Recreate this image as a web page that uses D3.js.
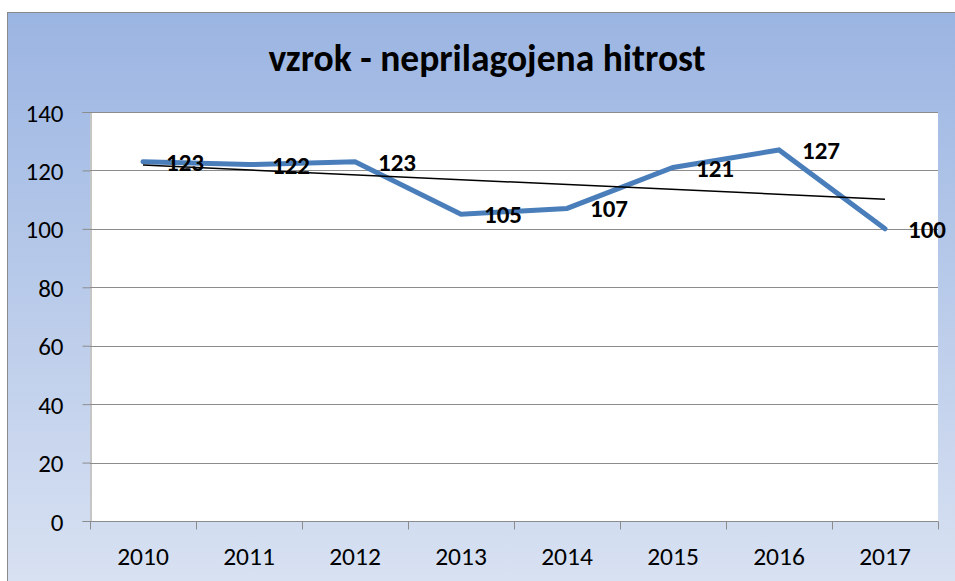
<!DOCTYPE html>
<html>
<head>
<meta charset="utf-8">
<script src="https://cdn.jsdelivr.net/npm/d3@7"></script>
<style>
  html, body { margin: 0; padding: 0; background: #ffffff; }
  svg { display: block; }
  text { font-family: Carlito, Lato, "Liberation Sans", sans-serif; }
</style>
</head>
<body>
<svg id="chart" width="955" height="581"></svg>
<script>
// Traffic accidents caused by inappropriate speed, by year
const years = ["2010", "2011", "2012", "2013", "2014", "2015", "2016", "2017"];
const accidents = [123, 122, 123, 105, 107, 121, 127, 100];
const yTicks = [0, 20, 40, 60, 80, 100, 120, 140];
const chartTitle = "vzrok - neprilagojena hitrost";

const svg = d3.select("#chart");
const W = 955, H = 581;
const plot = { left: 90, right: 938, top: 112, bottom: 521 };

// Background panel with a vertical blue gradient
const defs = svg.append("defs");
const grad = defs.append("linearGradient")
  .attr("id", "bg").attr("x1", 0).attr("y1", 0).attr("x2", 0).attr("y2", 1);
grad.append("stop").attr("offset", "0%").attr("stop-color", "#9bb5e2");
grad.append("stop").attr("offset", "100%").attr("stop-color", "#dde5f3");

svg.append("rect")
  .attr("x", 7.5).attr("y", 12.5)
  .attr("width", W + 20).attr("height", H + 40)
  .attr("fill", "url(#bg)")
  .attr("stroke", "#8a8a8a").attr("stroke-width", 1);

// Plot area
svg.append("rect")
  .attr("x", plot.left).attr("y", plot.top)
  .attr("width", plot.right - plot.left).attr("height", plot.bottom - plot.top)
  .attr("fill", "#ffffff");

const x = d3.scaleBand().domain(years).range([plot.left, plot.right]).padding(0);
const y = d3.scaleLinear().domain([0, 140]).range([plot.bottom, plot.top]);
const cx = d => x(d) + x.bandwidth() / 2;

// Horizontal gridlines
svg.append("g")
  .selectAll("line")
  .data(yTicks.filter(t => t > 0))
  .join("line")
  .attr("x1", plot.left).attr("x2", plot.right)
  .attr("y1", d => Math.round(y(d)) + 0.5).attr("y2", d => Math.round(y(d)) + 0.5)
  .attr("stroke", "#8c8c8c").attr("stroke-width", 1);

// Y axis
const yAxis = svg.append("g")
  .attr("transform", `translate(${plot.left + 0.5},0)`)
  .call(d3.axisLeft(y).tickValues(yTicks).tickSize(8).tickPadding(19).tickFormat(d3.format("d")));
yAxis.select(".domain").attr("stroke", "#8c8c8c");
yAxis.selectAll(".tick line").attr("stroke", "#8c8c8c");
yAxis.selectAll(".tick text")
  .attr("font-size", 25).attr("fill", "#000").attr("dy", "0.36em");

// X axis with ticks at category boundaries
const xAxisG = svg.append("g")
  .attr("transform", `translate(0,${plot.bottom + 0.5})`);
xAxisG.append("line")
  .attr("x1", plot.left).attr("x2", plot.right)
  .attr("stroke", "#8c8c8c");
const bounds = years.map(d => x(d)).concat([plot.right]);
xAxisG.selectAll("line.tk")
  .data(bounds)
  .join("line").attr("class", "tk")
  .attr("x1", d => Math.round(d) + 0.5).attr("x2", d => Math.round(d) + 0.5)
  .attr("y1", 0).attr("y2", 8)
  .attr("stroke", "#8c8c8c");
xAxisG.selectAll("text")
  .data(years)
  .join("text")
  .attr("x", d => cx(d)).attr("y", 34)
  .attr("dy", "0.36em")
  .attr("text-anchor", "middle")
  .attr("font-size", 25.5).attr("fill", "#000")
  .text(d => d);

// Data series
const pts = years.map((yr, i) => ({ yr, v: accidents[i] }));
svg.append("path")
  .datum(pts)
  .attr("fill", "none")
  .attr("stroke", "#4a7ebb")
  .attr("stroke-width", 5)
  .attr("stroke-linejoin", "miter")
  .attr("stroke-linecap", "round")
  .attr("d", d3.line().x(d => cx(d.yr)).y(d => y(d.v)));

// Linear trend line (least squares)
const n = accidents.length;
const idx = d3.range(n);
const mx = d3.mean(idx), my = d3.mean(accidents);
const slope = d3.sum(idx, i => (i - mx) * (accidents[i] - my)) / d3.sum(idx, i => (i - mx) ** 2);
const icpt = my - slope * mx;
svg.append("line")
  .attr("x1", cx(years[0])).attr("y1", y(icpt))
  .attr("x2", cx(years[n - 1])).attr("y2", y(icpt + slope * (n - 1)))
  .attr("stroke", "#000").attr("stroke-width", 1.5);

// Value labels to the right of each point
svg.append("g")
  .selectAll("text")
  .data(pts)
  .join("text")
  .attr("x", d => cx(d.yr) + 23)
  .attr("y", d => y(d.v))
  .attr("dy", "0.36em")
  .attr("font-size", 25).attr("font-weight", "bold").attr("fill", "#000")
  .text(d => d.v);

// Title
svg.append("text")
  .attr("x", 487).attr("y", 57)
  .attr("dy", "0.36em")
  .attr("text-anchor", "middle")
  .attr("font-size", 37.5).attr("font-weight", "bold").attr("fill", "#000")
  .text(chartTitle);
</script>
</body>
</html>
